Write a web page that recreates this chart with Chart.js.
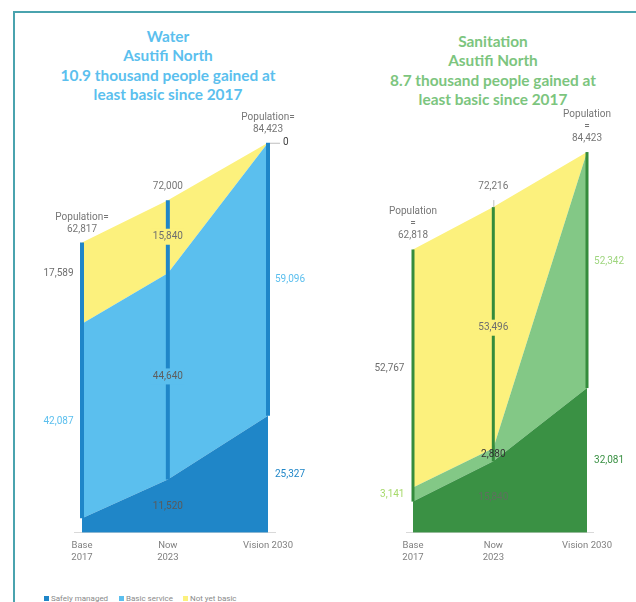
<!DOCTYPE html>
<html>
<head>
<meta charset="utf-8">
<script src="https://cdn.jsdelivr.net/npm/chart.js@4.4.1/dist/chart.umd.min.js"></script>
<style>
  html, body { margin: 0; padding: 0; background: #fff; width: 636px; height: 602px; overflow: hidden; position: relative; font-family: Roboto, sans-serif; }
  .frame { position: absolute; left: 13px; top: 11px; width: 700px; height: 700px; border-left: 2px solid #4aa3ae; border-top: 2px solid #4aa3ae; }
  .title { position: absolute; width: 320px; text-align: center; font-family: Lato, sans-serif; font-weight: 700; font-size: 15.4px; line-height: 19.3px; }
  #waterTitle { left: 8px; top: 27px; color: #5bbfee; }
  #sanitationTitle { left: 333px; top: 32px; color: #7cc57e; }
  .panel { position: absolute; top: 0; }
  #waterPanel { left: 20px; width: 300px; height: 580px; }
  #sanitationPanel { left: 330px; width: 306px; height: 580px; }
  .legend { position: absolute; left: 44px; top: 594px; font-size: 8px; color: #8a8a8a; white-space: nowrap; }
  .legend span { position: absolute; top: 0; line-height: 10px; }
  .legend i { display: inline-block; width: 5px; height: 5px; margin-right: 2px; vertical-align: 0; }
</style>
</head>
<body>
<div class="frame"></div>
<div class="title" id="waterTitle">Water<br>Asutifi North<br>10.9 thousand people gained at<br>least basic since 2017</div>
<div class="title" id="sanitationTitle">Sanitation<br>Asutifi North<br>8.7 thousand people gained at<br>least basic since 2017</div>
<div class="panel" id="waterPanel"><canvas id="waterChart" width="300" height="580"></canvas></div>
<div class="panel" id="sanitationPanel"><canvas id="sanitationChart" width="306" height="580"></canvas></div>
<div class="legend">
  <span style="left:0"><i style="background:#1f86c8"></i>Safely managed</span>
  <span style="left:75px"><i style="background:#5bbfee"></i>Basic service</span>
  <span style="left:139px"><i style="background:#fcf17d"></i>Not yet basic</span>
</div>
<script>
// Service ladder: population by level at baseline, today and the 2030 target
const years = [2017, 2023, 2030];
const periodLabels = [['Base', '2017'], ['Now', '2023'], 'Vision 2030'];

const waterSafelyManaged = [3141, 11520, 25327];
const waterBasicService = [42087, 44640, 59096];
const waterNotYetBasic = [17589, 15840, 0];
const waterPopulation = [62817, 72000, 84423];

const sanitationSafelyManaged = [6910, 15840, 32081];
const sanitationBasicService = [3141, 2880, 52342];
const sanitationNotYetBasic = [52767, 53496, 0];
const sanitationPopulation = [62818, 72216, 84423];

const fmt = v => v.toLocaleString('en-US');

// Draws segment values, population captions and leader ticks
const ladderLabels = {
  id: 'ladderLabels',
  afterDatasetsDraw(chart, args, opts) {
    const { ctx, scales: { x, y } } = chart;
    const s = opts.series;
    ctx.save();
    ctx.font = '10px Roboto';
    ctx.textBaseline = 'middle';
    opts.labels.forEach(l => {
      const i = l.i;
      const base = l.seg === 'safe' ? 0 : l.seg === 'basic' ? s.safe[i] : s.safe[i] + s.basic[i];
      const v = s[l.seg][i];
      const px = x.getPixelForValue(years[i]);
      const py = y.getPixelForValue(base + v / 2) + (l.dy || 0);
      const text = fmt(v);
      let tx = px, align = 'center';
      if (l.side === 'left') { tx = px - 8.5; align = 'right'; }
      if (l.side === 'right') { tx = px + 7; align = 'left'; }
      if (l.bg) {
        const w = ctx.measureText(text).width + 4;
        ctx.fillStyle = l.bg;
        ctx.fillRect(px - w / 2, py - 8, w, 16);
      }
      if (l.leader) {
        ctx.strokeStyle = '#bfbfbf';
        ctx.lineWidth = 1;
        ctx.beginPath();
        ctx.moveTo(px + 2, py + 0.5);
        ctx.lineTo(px + 12, py + 0.5);
        ctx.stroke();
        tx = px + 15; align = 'left';
      }
      ctx.fillStyle = l.color;
      ctx.textAlign = align;
      ctx.fillText(text, tx, py);
    });
    ctx.textAlign = 'center';
    ctx.fillStyle = '#767676';
    s.population.forEach((p, i) => {
      const px = x.getPixelForValue(years[i]);
      const top = y.getPixelForValue(p);
      const lead = opts.leaders[i] || 0;
      if (lead) {
        ctx.strokeStyle = '#bfbfbf';
        ctx.lineWidth = 1;
        ctx.beginPath();
        ctx.moveTo(px + 0.5, top);
        ctx.lineTo(px + 0.5, top - lead);
        ctx.stroke();
      }
      const lines = opts.captions[i].concat([fmt(p)]);
      const last = top - lead - 13.5;
      lines.forEach((t, k) => {
        ctx.fillText(t, px, last - (lines.length - 1 - k) * 12);
      });
    });
    ctx.restore();
  }
};

function buildLadder(canvasId, s, colors, padding, labels, captions, leaders, lineWidth) {
  const point = arr => years.map((yr, i) => ({ x: yr, y: arr[i] }));
  const basicTop = s.safe.map((v, i) => v + s.basic[i]);
  const total = basicTop.map((v, i) => v + s.notBasic[i]);
  const area = (label, arr, color, fill) => ({
    label, data: point(arr), fill, backgroundColor: color,
    borderColor: 'transparent', borderWidth: 0, pointRadius: 0, tension: 0, order: 1
  });
  const datasets = [
    area('Safely managed', s.safe, colors.safe, 'origin'),
    area('Basic service', basicTop, colors.basic, '-1'),
    area('Not yet basic', total, colors.notBasic, '-1')
  ];
  // vertical markers spanning the basic and not-yet-basic share at each period
  years.forEach((yr, i) => {
    datasets.push({
      label: 'marker ' + yr,
      data: [{ x: yr, y: s.safe[i] }, { x: yr, y: total[i] }],
      borderColor: colors.line, borderWidth: lineWidth, borderCapStyle: 'butt',
      pointRadius: 0, fill: false, order: 0, clip: false
    });
  });
  return new Chart(document.getElementById(canvasId), {
    type: 'line',
    data: { datasets },
    plugins: [ladderLabels],
    options: {
      responsive: false,
      animation: false,
      layout: { padding },
      plugins: {
        legend: { display: false },
        tooltip: { enabled: false },
        ladderLabels: { series: s, labels, captions, leaders }
      },
      scales: {
        x: {
          type: 'linear', min: 2016.5, max: 2030.5,
          grid: { display: false, drawTicks: false },
          border: { display: true, color: '#d9d9d9', width: 1 },
          afterBuildTicks: sc => { sc.ticks = years.map(v => ({ value: v })); },
          ticks: {
            autoSkip: false, maxRotation: 0, padding: 7, color: '#7f7f7f',
            font: { family: 'Roboto', size: 9.5, lineHeight: 1.25 },
            callback: v => periodLabels[years.indexOf(v)]
          }
        },
        y: { display: false, min: 0, max: 90000 }
      }
    }
  });
}

buildLadder('waterChart',
  { safe: waterSafelyManaged, basic: waterBasicService, notBasic: waterNotYetBasic, population: waterPopulation },
  { safe: '#1f86c8', basic: '#5bbfee', notBasic: '#fcf17d', line: '#1f86c8' },
  { left: 54.85, right: 44.85, top: 117, bottom: 9.5 },
  [
    { i: 0, seg: 'notBasic', side: 'left', color: '#6e6e6e', dy: -10 },
    { i: 0, seg: 'basic', side: 'left', color: '#5bbfee' },
    { i: 1, seg: 'notBasic', side: 'center', color: '#6e6e6e', bg: '#fcf17d' },
    { i: 1, seg: 'basic', side: 'center', color: '#5e5e5e', bg: '#5bbfee' },
    { i: 1, seg: 'safe', side: 'center', color: '#5a5a5a' },
    { i: 2, seg: 'notBasic', side: 'right', color: '#404040', leader: true },
    { i: 2, seg: 'basic', side: 'right', color: '#5bbfee' },
    { i: 2, seg: 'safe', side: 'right', color: '#1f86c8' }
  ],
  [['Population='], [], ['Population=']],
  [0, 0, 0],
  4
);

buildLadder('sanitationChart',
  { safe: sanitationSafelyManaged, basic: sanitationBasicService, notBasic: sanitationNotYetBasic, population: sanitationPopulation },
  { safe: '#3a9144', basic: '#83c886', notBasic: '#fcf17d', line: '#348c3c' },
  { left: 76.3, right: 42.3, top: 126.9, bottom: 9.5 },
  [
    { i: 0, seg: 'notBasic', side: 'left', color: '#6e6e6e' },
    { i: 0, seg: 'basic', side: 'left', color: '#a6d96a' },
    { i: 1, seg: 'notBasic', side: 'center', color: '#6e6e6e', bg: '#fcf17d' },
    { i: 1, seg: 'basic', side: 'center', color: '#333333' },
    { i: 1, seg: 'safe', side: 'center', color: '#5f6f5f' },
    { i: 2, seg: 'basic', side: 'right', color: '#9fd67f', dy: -9 },
    { i: 2, seg: 'safe', side: 'right', color: '#3a9144' }
  ],
  [['Population', '='], [], ['Population', '=']],
  [0, 7, 0],
  3
);
</script>
</body>
</html>
